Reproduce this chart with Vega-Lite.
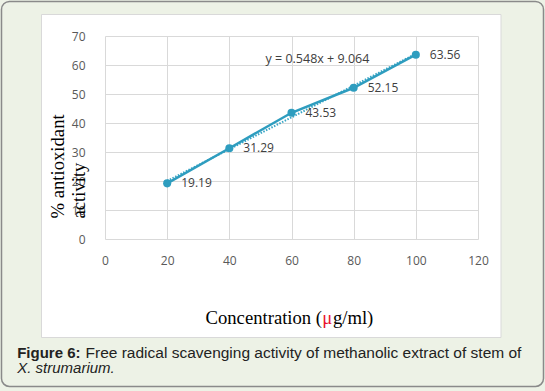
{
  "$schema": "https://vega.github.io/schema/vega-lite/v6.json",
  "width": 373,
  "height": 203,
  "autosize": {"type": "none"},
  "padding": {"left": 105, "top": 36, "right": 67, "bottom": 152},
  "background": "white",
  "config": {
    "view": {"stroke": null},
    "axis": {
      "domain": false, "ticks": false, "grid": false, "labels": false,
      "titleAlign": "left", "titleBaseline": "alphabetic",
      "titleFontWeight": "normal", "titlePadding": 0, "labelFlush": false
    }
  },
  "data": {"values": [
    {"conc": 20, "activity": 19.19},
    {"conc": 40, "activity": 31.29},
    {"conc": 60, "activity": 43.53},
    {"conc": 80, "activity": 52.15},
    {"conc": 100, "activity": 63.56}
  ]},
  "resolve": {"axis": {"x": "independent", "y": "independent"}},
  "layer": [
    {
      "data": {"values": [{}]},
      "mark": {"type": "rect", "filled": false, "stroke": "#EDF2E6", "strokeWidth": 120},
      "encoding": {
        "x": {"datum": -39.73, "type": "quantitative", "scale": {"domain": [0, 120], "nice": false, "zero": false}, "axis": null},
        "x2": {"datum": 146.70},
        "y": {"datum": 98.10, "type": "quantitative", "scale": {"domain": [0, 70], "nice": false, "zero": false}, "axis": null},
        "y2": {"datum": -54.66}
      }
    },
    {
      "data": {"values": [{}]},
      "mark": {"type": "rect", "filled": false, "stroke": "#8a8a8a", "strokeWidth": 1.5, "cornerRadius": 8},
      "encoding": {
        "x": {"datum": -33.30, "type": "quantitative", "scale": {"domain": [0, 120], "nice": false, "zero": false}, "axis": null},
        "x2": {"datum": 141.07},
        "y": {"datum": 81.90, "type": "quantitative", "scale": {"domain": [0, 70], "nice": false, "zero": false}, "axis": null},
        "y2": {"datum": -50.86}
      }
    },
    {
      "data": {"values": [{}]},
      "mark": {"type": "rect", "filled": false, "stroke": "#d9d9d9", "strokeWidth": 1},
      "encoding": {
        "x": {"datum": -20.43, "type": "quantitative", "scale": {"domain": [0, 120], "nice": false, "zero": false},
          "axis": {"orient": "bottom", "zindex": 2, "title": "X. strumarium.", "titleAngle": 0, "titleFont": "Liberation Sans", "titleFontStyle": "italic", "titleFontSize": 15, "titleColor": "#222222", "titleX": -88.3, "titleY": 133}},
        "x2": {"datum": 127.40},
        "y": {"datum": 77.41, "type": "quantitative", "scale": {"domain": [0, 70], "nice": false, "zero": false}, "axis": null},
        "y2": {"datum": -33.97}
      }
    },
    {
      "transform": [{"regression": "activity", "on": "conc"}],
      "mark": {"type": "line", "stroke": "#3aa6c6", "strokeWidth": 2, "strokeDash": [1.5, 1.5]},
      "encoding": {
        "x": {"field": "conc", "type": "quantitative", "scale": {"domain": [0, 120], "nice": false, "zero": false},
          "axis": {"orient": "top", "grid": true, "gridColor": "#d9d9d9", "gridWidth": 1, "values": [0, 20, 40, 60, 80, 100, 120], "zindex": 0,
            "title": "y = 0.548x + 9.064", "titleAngle": 0, "titleFont": "Open Sans", "titleFontSize": 12.5, "titleColor": "#404040", "titleX": 160, "titleY": 26}},
        "y": {"field": "activity", "type": "quantitative", "scale": {"domain": [0, 70], "nice": false, "zero": false},
          "axis": {"orient": "left", "grid": true, "gridColor": "#d9d9d9", "gridWidth": 1, "values": [0, 10, 20, 30, 40, 50, 60, 70], "zindex": 0, "title": null}}
      }
    },
    {
      "mark": {"type": "line", "stroke": "#2e9dbf", "strokeWidth": 2.5},
      "encoding": {
        "x": {"field": "conc", "type": "quantitative", "scale": {"domain": [0, 120], "nice": false, "zero": false},
          "axis": {"orient": "bottom", "zindex": 2, "labels": true, "values": [0, 20, 40, 60, 80, 100, 120], "labelFont": "Open Sans", "labelFontSize": 12, "labelColor": "#595959", "labelPadding": 16,
            "title": "Concentration (", "titleAngle": 0, "titleFont": "Liberation Serif", "titleFontSize": 18.67, "titleColor": "#000000", "titleX": 100, "titleY": 84}},
        "y": {"field": "activity", "type": "quantitative", "scale": {"domain": [0, 70], "nice": false, "zero": false},
          "axis": {"orient": "left", "zindex": 2, "labels": true, "values": [0, 10, 20, 30, 40, 50, 60, 70], "labelFont": "Open Sans", "labelFontSize": 12, "labelColor": "#595959", "labelPadding": 20,
            "title": ["% antioxidant", "activity"], "titleFont": "Liberation Serif", "titleFontSize": 18.67, "titleColor": "#000000", "titleAngle": 270, "titleX": -42, "titleY": 182, "titleLineHeight": 21.5}}
      }
    },
    {
      "mark": {"type": "point", "filled": true, "size": 65, "color": "#2e9dbf", "opacity": 1},
      "encoding": {
        "x": {"field": "conc", "type": "quantitative", "scale": {"domain": [0, 120], "nice": false, "zero": false},
          "axis": {"orient": "top", "zindex": 2, "title": "μ", "titleAngle": 0, "titleFont": "Liberation Serif", "titleFontSize": 18.67, "titleColor": "#e8112d", "titleX": 216.65, "titleY": 287}},
        "y": {"field": "activity", "type": "quantitative", "scale": {"domain": [0, 70], "nice": false, "zero": false},
          "axis": {"orient": "right", "zindex": 2, "title": "g/ml)", "titleAngle": 0, "titleFont": "Liberation Serif", "titleFontSize": 18.67, "titleColor": "#000000", "titleX": -145.59, "titleY": 287}}
      }
    },
    {
      "mark": {"type": "text", "align": "left", "baseline": "middle", "dx": 14, "font": "Open Sans", "fontSize": 12, "color": "#404040"},
      "encoding": {
        "x": {"field": "conc", "type": "quantitative", "scale": {"domain": [0, 120], "nice": false, "zero": false},
          "axis": {"orient": "bottom", "zindex": 2, "title": "Figure 6:", "titleAngle": 0, "titleFont": "Liberation Sans", "titleFontWeight": "bold", "titleFontSize": 15, "titleColor": "#222222", "titleX": -88.3, "titleY": 118}},
        "y": {"field": "activity", "type": "quantitative", "scale": {"domain": [0, 70], "nice": false, "zero": false},
          "axis": {"orient": "left", "zindex": 2, "title": "Free radical scavenging activity of methanolic extract of stem of", "titleAngle": 0, "titleFont": "Liberation Sans", "titleFontSize": 15.5, "titleColor": "#222222", "titleX": -20, "titleY": 321}},
        "text": {"field": "activity", "type": "quantitative", "format": ".2f"}
      }
    }
  ]
}
